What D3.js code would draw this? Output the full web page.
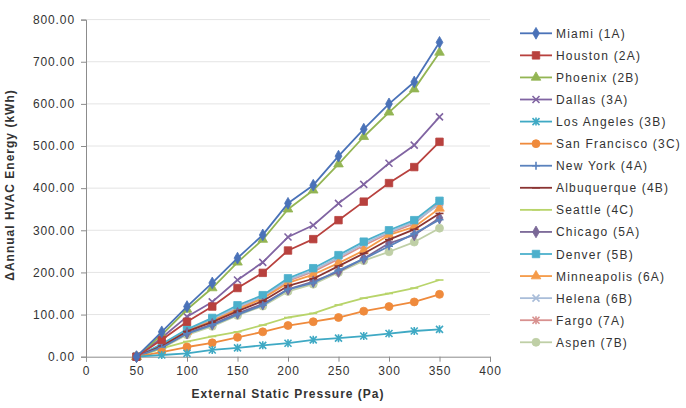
<!DOCTYPE html>
<html><head><meta charset="utf-8">
<script src="https://cdn.jsdelivr.net/npm/d3@7"></script>
<style>
html,body{margin:0;padding:0;background:#fff;}
svg{display:block;font-family:"Liberation Sans",Arial,sans-serif;}
</style></head>
<body><svg id="c" width="686" height="408"></svg>
<script>
const pressures = [50,75,100,125,150,175,200,225,250,275,300,325,350];
const xTicks = [0,50,100,150,200,250,300,350,400];
const yTicks = [0,100,200,300,400,500,600,700,800];

const cityNames = ["Miami (1A)","Houston (2A)","Phoenix (2B)","Dallas (3A)","Los Angeles (3B)","San Francisco (3C)","New York (4A)","Albuquerque (4B)","Seattle (4C)","Chicago (5A)","Denver (5B)","Minneapolis (6A)","Helena (6B)","Fargo (7A)","Aspen (7B)"];
const miami        = [0,59,119,175,234,289,364,407,476,540,600,652,746];
const houston      = [0,40,83,119,163,199,252,279,324,368,412,450,510];
const phoenix      = [0,52,112,163,224,278,350,395,457,522,580,635,722];
const dallas       = [0,45,95,130,182,224,284,312,364,409,459,502,569];
const losAngeles   = [0,4,8,16,21,27,32,40,44,49,55,61,65];
const sanFrancisco = [0,11,23,33,46,59,74,83,93,108,119,130,148];
const newYork      = [0,22,55,75,100,122,160,175,205,232,262,292,325];
const albuquerque  = [0,25,60,82,108,132,168,185,215,245,278,302,340];
const seattle      = [0,20,36,48,59,75,93,103,123,139,150,163,182];
const chicago      = [0,22,56,77,103,125,160,178,202,233,269,289,329];
const denver       = [0,30,65,92,122,146,186,210,241,273,300,324,370];
const minneapolis  = [0,27,60,85,112,138,175,195,222,252,289,308,352];
const helena       = [0,28,63,88,118,142,182,205,236,268,296,320,362];
const fargo        = [0,28,62,87,116,140,180,202,232,264,293,316,366];
const aspen        = [0,20,52,72,98,120,155,172,200,228,249,272,305];

const seriesValues = [miami,houston,phoenix,dallas,losAngeles,sanFrancisco,newYork,albuquerque,seattle,chicago,denver,minneapolis,helena,fargo,aspen];
const colors  = ["#4a72b8","#b8413e","#93b553","#8064a2","#3fa9c4","#ef8a3c","#5a82bd","#8a3432","#b8d46a","#7a6897","#4cb0cc","#f59a48","#a9bdd9","#d8918f","#bfcfa6"];
const markers = ["diamond","square","triangle","times","asterisk","circle","plus","dash","dash","diamond","square","triangle","times","asterisk","circle"];

const svg = d3.select("#c");
const m = {left:86, right:490, top:19.6, bottom:356.7};
const x = d3.scaleLinear().domain([0,400]).range([m.left, m.right]);
const y = d3.scaleLinear().domain([0,800]).range([m.bottom, m.top]);

svg.append("g").selectAll("line").data(yTicks.filter(d=>d>0)).join("line")
  .attr("x1", m.left).attr("x2", m.right)
  .attr("y1", d=>y(d)).attr("y2", d=>y(d))
  .attr("stroke","#e4e4e4").attr("stroke-width",1);

const yAxis = svg.append("g").attr("transform",`translate(${m.left},0)`)
  .call(d3.axisLeft(y).tickValues(yTicks).tickFormat(d3.format(".2f")).tickSize(5).tickPadding(6));
const xAxis = svg.append("g").attr("transform",`translate(0,${m.bottom})`)
  .call(d3.axisBottom(x).tickValues(xTicks).tickFormat(d3.format("d")).tickSize(5).tickPadding(5));
[yAxis,xAxis].forEach(a=>{
  a.select(".domain").attr("stroke","#8c8c8c");
  a.selectAll(".tick line").attr("stroke","#8c8c8c");
  a.selectAll("text").attr("fill","#333").attr("font-size","12px").style("letter-spacing","0.9px")
    .attr("font-family","'Liberation Sans',Arial,sans-serif");
});

function symPath(kind){
  switch(kind){
    case "diamond": return d3.symbol(d3.symbolDiamond, 40)();
    case "square": return d3.symbol(d3.symbolSquare, 56)();
    case "triangle": return d3.symbol(d3.symbolTriangle, 40)();
    case "circle": return d3.symbol(d3.symbolCircle, 50)();
    case "times": return "M-3.5,-3.5L3.5,3.5M-3.5,3.5L3.5,-3.5";
    case "plus": return "M-4,0L4,0M0,-4L0,4";
    case "asterisk": return "M-3.5,-3.5L3.5,3.5M-3.5,3.5L3.5,-3.5M0,-4L0,4";
    case "dash": return "M-4,0L4,0";
  }
}
const strokeKinds = new Set(["times","plus","asterisk","dash"]);

const line = d3.line().x((d,i)=>x(pressures[i])).y(d=>y(d));
const order = d3.range(seriesValues.length).reverse();
const g = svg.append("g");
order.forEach(k=>{
  const vals = seriesValues[k];
  g.append("path").attr("d", line(vals)).attr("fill","none")
    .attr("stroke", colors[k]).attr("stroke-width",1.8).attr("stroke-linejoin","round");
  const mk = markers[k];
  g.selectAll(null).data(vals).join("path")
    .attr("transform",(d,i)=>`translate(${x(pressures[i])},${y(d)})`)
    .attr("d", symPath(mk))
    .attr("fill", strokeKinds.has(mk) ? "none" : colors[k])
    .attr("stroke", colors[k]).attr("stroke-width", strokeKinds.has(mk)?1.6:0.8);
});

svg.append("text").attr("x", 288).attr("y", 398).attr("text-anchor","middle")
  .attr("font-size","12px").attr("font-weight","bold").attr("fill","#333").style("letter-spacing","1px")
  .text("External Static Pressure (Pa)");
svg.append("text").attr("transform","translate(14,185) rotate(-90)").attr("text-anchor","middle")
  .attr("font-size","12px").attr("font-weight","bold").attr("fill","#333").style("letter-spacing","1px")
  .text("\u0394Annual HVAC Energy (kWh)");

const lg = svg.append("g");
cityNames.forEach((name,k)=>{
  const ly = 33.3 + k*22.07;
  lg.append("line").attr("x1",520).attr("x2",552).attr("y1",ly).attr("y2",ly)
    .attr("stroke",colors[k]).attr("stroke-width",1.8);
  const mk = markers[k];
  lg.append("path").attr("transform",`translate(536,${ly})`).attr("d",symPath(mk))
    .attr("fill", strokeKinds.has(mk) ? "none" : colors[k])
    .attr("stroke", colors[k]).attr("stroke-width", strokeKinds.has(mk)?1.6:0.8);
  lg.append("text").attr("x",556).attr("y",ly+4.5).attr("font-size","12px").attr("fill","#333")
    .style("letter-spacing","1.2px").text(name);
});
</script></body></html>
